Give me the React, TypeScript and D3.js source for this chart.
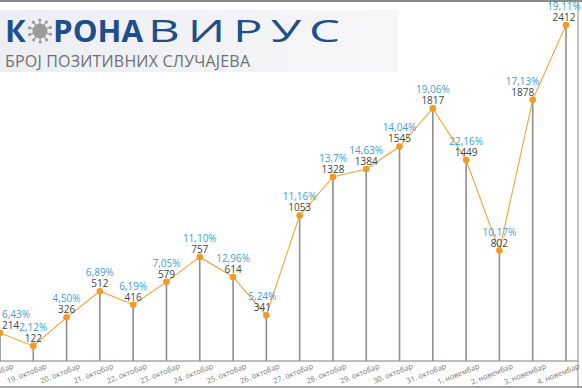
import { range, scaleLinear, scalePoint, line } from "d3";

const dates = [
  "18. октобар", "19. октобар", "20. октобар", "21. октобар", "22. октобар",
  "23. октобар", "24. октобар", "25. октобар", "26. октобар", "27. октобар",
  "28. октобар", "29. октобар", "30. октобар", "31. октобар", "1. новембар",
  "2. новембар", "3. новембар", "4. новембар"
];
const cases = [214, 122, 326, 512, 416, 579, 757, 614, 341, 1053, 1328, 1384, 1545, 1817, 1449, 802, 1878, 2412];
const percents = [
  "6,43%", "2,12%", "4,50%", "6,89%", "6,19%", "7,05%", "11,10%", "12,96%", "5,24%",
  "11,16%", "13,7%", "14,63%", "14,04%", "19,06%", "22,16%", "10,17%", "17,13%", "19,11%"
];

const width = 582;
const height = 388;
const baseY = 361;
const blue = "#1e4f8c";
const orange = "#f5a334";
const font = "'Open Sans', sans-serif";

// small horizontal nudges where the original labels sit off-centre
const labelNudge: Record<number, number> = { 8: -4, 16: -10, 17: -2 };

function VirusIcon({ cx, cy }: { cx: number; cy: number }) {
  const spikes = range(10).map((i) => (i / 10) * Math.PI * 2 + 0.3);
  return (
    <g fill="#9b9b9b" stroke="#9b9b9b">
      {spikes.map((a, i) => (
        <g key={i}>
          <line
            x1={cx + Math.cos(a) * 6}
            y1={cy + Math.sin(a) * 6}
            x2={cx + Math.cos(a) * 10.5}
            y2={cy + Math.sin(a) * 10.5}
            strokeWidth={1.2}
          />
          <circle cx={cx + Math.cos(a) * 11} cy={cy + Math.sin(a) * 11} r={1.6} stroke="none" />
        </g>
      ))}
      <circle cx={cx} cy={cy} r={7.5} stroke="none" />
    </g>
  );
}

export default function App() {
  const x = scalePoint<string>().domain(dates).range([0, 566]);
  const y = scaleLinear()
    .domain([0, Math.max(...cases)])
    .range([363, 25]);

  const pts = dates.map((d, i) => ({ d, i, v: cases[i], p: percents[i], px: x(d) ?? 0, py: y(cases[i]) }));
  const path = line<{ px: number; py: number }>()
    .x((p) => p.px)
    .y((p) => p.py)(pts);

  return (
    <svg
      width={width}
      height={height}
      style={{ position: "absolute", left: 0, top: 0, background: "#fff" }}
      fontFamily={font}
    >
      <defs>
        <linearGradient id="logoBg" x1="0" x2="1" y1="0" y2="0">
          <stop offset="0" stopColor="#eceef2" />
          <stop offset="1" stopColor="#f7f7f9" />
        </linearGradient>
      </defs>

      {/* frame */}
      <line x1={0} x2={width} y1={1} y2={1} stroke="#8a8a8a" strokeWidth={2} />
      <line x1={578} x2={578} y1={0} y2={height} stroke="#a0a0a0" strokeWidth={1.2} />
      <line x1={0} x2={width} y1={387} y2={387} stroke="#8a8a8a" strokeWidth={1.5} />

      {/* logo */}
      <rect x={0} y={10} width={398} height={62} fill="url(#logoBg)" />
      <text x={5} y={42} fontSize={31} fontWeight={700} fill={blue}>К</text>
      <VirusIcon cx={40} cy={31} />
      <text x={53} y={42} fontSize={31} fontWeight={700} fill={blue} textLength={90} lengthAdjust="spacingAndGlyphs">
        РОНА
      </text>
      <text
        x={148}
        y={42}
        fontSize={31}
        fontWeight={400}
        letterSpacing={5}
        fill={blue}
        textLength={200}
        lengthAdjust="spacingAndGlyphs"
      >
        ВИРУС
      </text>
      <text x={5} y={67} fontSize={16} fill="#707070" textLength={245} lengthAdjust="spacing">
        БРОЈ ПОЗИТИВНИХ СЛУЧАЈЕВА
      </text>

      {/* axis */}
      <line x1={0} x2={578} y1={baseY} y2={baseY} stroke="#a8a8a8" strokeWidth={1.5} />

      {pts.map((p) => (
        <line key={`v-${p.i}`} x1={p.px} x2={p.px} y1={p.py} y2={baseY} stroke="#8f8f8f" strokeWidth={1.6} />
      ))}

      <path d={path ?? ""} fill="none" stroke={orange} strokeWidth={1.1} />

      {pts.map((p) => (
        <circle key={`c-${p.i}`} cx={p.px} cy={p.py} r={3.3} fill="#f39a22" />
      ))}

      {pts.map((p) => {
        const first = p.i === 0;
        const lx = first ? 2 : p.px + (labelNudge[p.i] ?? 0);
        const anchor = first ? "start" : "middle";
        return (
          <g key={`l-${p.i}`} fontSize={10} textAnchor={anchor}>
            <text x={lx} y={p.py - 15} fill="#3a9fdc">{p.p}</text>
            <text x={lx} y={p.py - 4} fill="#444">{p.v}</text>
          </g>
        );
      })}

      {pts.map((p) => (
        <text
          key={`t-${p.i}`}
          transform={`translate(${p.px + 14}, 368) rotate(-22)`}
          textAnchor="end"
          fontSize={7.5}
          fill="#777"
        >
          {p.d}
        </text>
      ))}
    </svg>
  );
}
